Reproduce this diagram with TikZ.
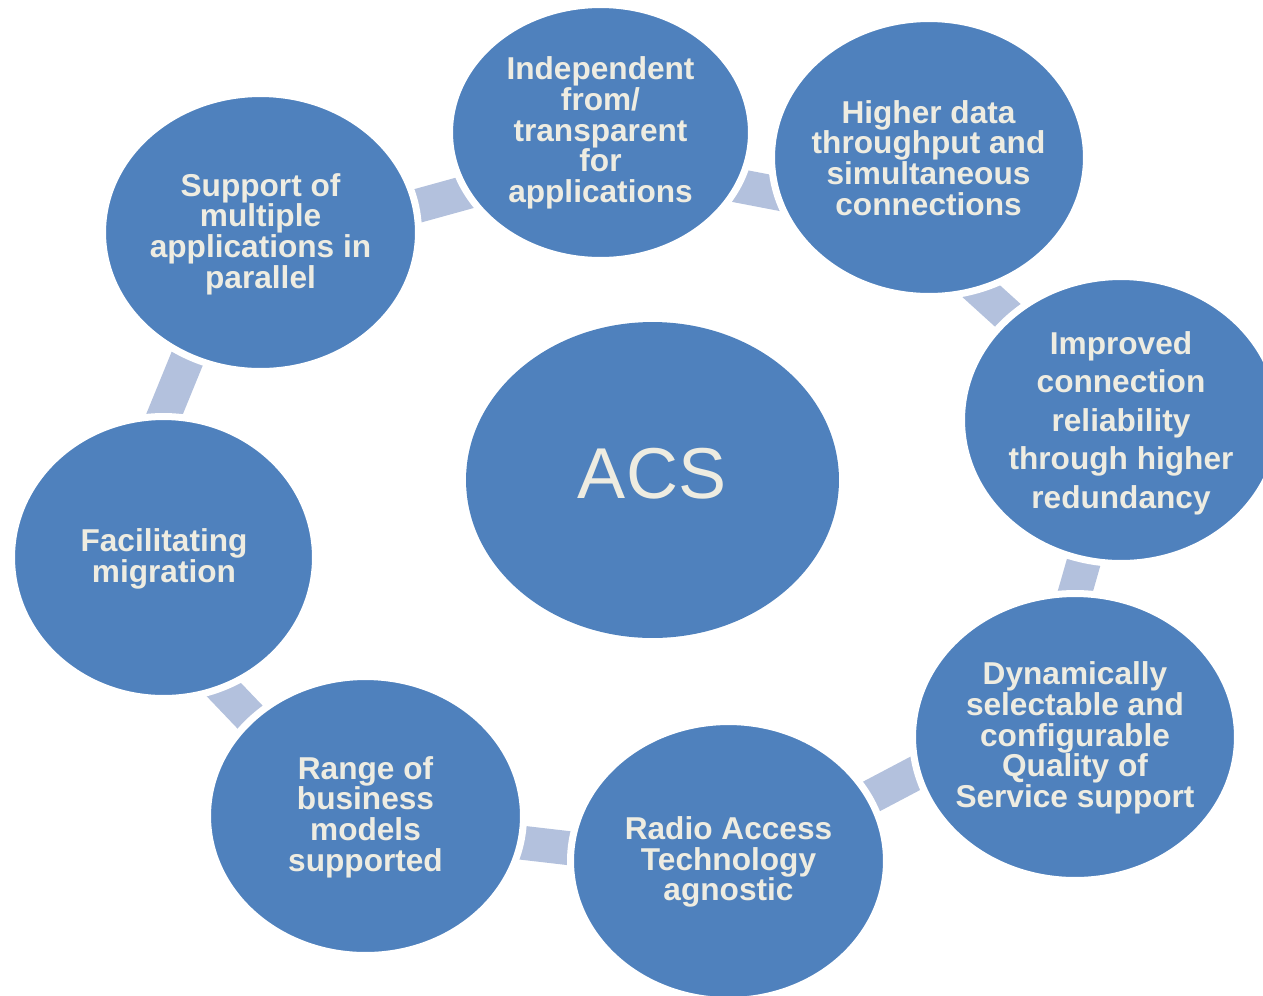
\documentclass[tikz,border=0pt]{standalone}
\usepackage{fontspec}
\setmainfont{Liberation Sans}
\usetikzlibrary{shapes.geometric}
\definecolor{acsblue}{RGB}{79,129,189}
\definecolor{conncol}{RGB}{179,193,221}
\definecolor{cream}{RGB}{238,236,225}
\begin{document}
\begin{tikzpicture}[x=0.02cm,y=-0.02cm,
 bub/.style={ellipse, fill=acsblue, draw=white, line width=0.14cm, inner sep=0pt},
 hub/.style={ellipse, fill=acsblue, draw=none, inner sep=0pt},
 txt/.style={text=cream, font=\bfseries\fontsize{18}{17.5}\selectfont, align=center, inner sep=0pt},
 txtwide/.style={txt, font=\bfseries\fontsize{18}{21.9}\selectfont},
 hubtxt/.style={text=cream, font=\fontsize{41}{45}\selectfont, inner sep=0pt},
 conn/.style={draw=conncol, line width=0.68cm, line cap=butt}]
\useasboundingbox (0,0) rectangle (1263,995);
\clip (0,0) rectangle (1263,995);
% connector end points (inside the bubbles)
\coordinate (c81a) at (388.1,214);
\coordinate (c81b) at (494.9,184.5);
\coordinate (c12a) at (709.2,180.2);
\coordinate (c12b) at (804.5,198.5);
\coordinate (c23a) at (958.6,270.7);
\coordinate (c23b) at (1029.7,335.2);
\coordinate (c34a) at (1091.6,534.5);
\coordinate (c34b) at (1067,620.3);
\coordinate (c45a) at (942.4,759);
\coordinate (c45b) at (843.4,811.2);
\coordinate (c56a) at (600.3,851.8);
\coordinate (c56b) at (491.9,839.2);
\coordinate (c67a) at (272.4,740.5);
\coordinate (c67b) at (202.7,667.5);
\coordinate (c78a) at (152.8,442.8);
\coordinate (c78b) at (198,332.2);
\draw[conn] (c81a) -- (c81b);
\draw[conn] (c12a) -- (c12b);
\draw[conn] (c23a) -- (c23b);
\draw[conn] (c34a) -- (c34b);
\draw[conn] (c45a) -- (c45b);
\draw[conn] (c56a) -- (c56b);
\draw[conn] (c67a) -- (c67b);
\draw[conn] (c78a) -- (c78b);
% bubbles
\node[bub, minimum width=6.04cm, minimum height=5.12cm] (e1) at (600.5,132.5) {};
\node[bub, minimum width=6.30cm, minimum height=5.56cm] (e2) at (929,157.5) {};
\node[bub, minimum width=6.38cm, minimum height=5.74cm] (e3) at (1121,420) {};
\node[bub, minimum width=6.50cm, minimum height=5.74cm] (e4) at (1075,737) {};
\node[bub, minimum width=6.32cm, minimum height=5.58cm] (e5) at (728.5,861) {};
\node[bub, minimum width=6.32cm, minimum height=5.58cm] (e6) at (365.5,816) {};
\node[bub, minimum width=6.08cm, minimum height=5.64cm] (e7) at (163.5,557.5) {};
\node[bub, minimum width=6.32cm, minimum height=5.56cm] (e8) at (260.5,232.5) {};
\node[hub, minimum width=7.46cm, minimum height=6.32cm] (acs) at (652.5,480) {};
% texts
\node[txt] (t1) at (600.5,133) {Independent\\from/\\transparent\\for\\applications};
\node[txt] (t2) at (928.5,158) {Higher data\\throughput and\\simultaneous\\connections};
\node[txtwide] (t3) at (1121,423) {Improved\\connection\\reliability\\through higher\\redundancy};
\node[txt] (t4) at (1075,738) {Dynamically\\selectable and\\configurable\\Quality of\\Service support};
\node[txt] (t5) at (728.5,862) {Radio Access\\Technology\\agnostic};
\node[txt] (t6) at (365.5,817) {Range of\\business\\models\\supported};
\node[txt] (t7) at (164,559) {Facilitating\\migration};
\node[txt] (t8) at (260.5,234) {Support of\\multiple\\applications in\\parallel};
\node[hubtxt] (tacs) at (652,474) {ACS};
\end{tikzpicture}
\end{document}
